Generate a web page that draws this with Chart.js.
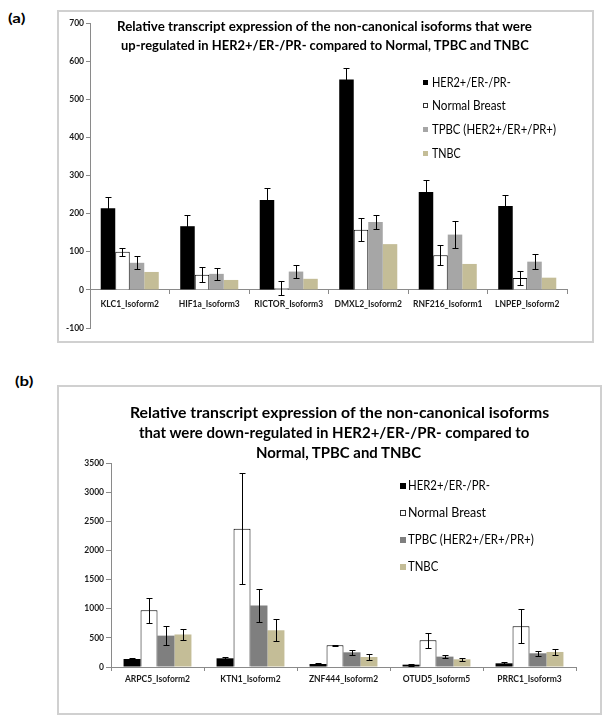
<!DOCTYPE html>
<html><head><meta charset="utf-8">
<script src="https://cdn.jsdelivr.net/npm/chart.js@4.4.1/dist/chart.umd.min.js"></script>
<style>
html,body{margin:0;padding:0;background:#fff;}
body{width:611px;height:724px;position:relative;overflow:hidden;font-family:Lato,"Open Sans",sans-serif;}
.frame{position:absolute;border:2px solid #d0d0d0;box-sizing:border-box;}
.txt{position:absolute;white-space:nowrap;transform-origin:0 50%;color:#000;}
canvas{position:absolute;}
.sq{position:absolute;box-sizing:border-box;}
</style>
</head><body>
<div class="frame" style="left:57px;top:10px;width:537px;height:333px;"></div>
<div class="frame" style="left:57px;top:385px;width:545px;height:330px;"></div>
<canvas id="ca" width="537" height="333" style="left:57px;top:10px;"></canvas>
<canvas id="cb" width="544" height="329" style="left:57px;top:385px;"></canvas>
<script>
// ---------- data (a) ----------
const catsA = ['KLC1_Isoform2','HIF1a_Isoform3','RICTOR_Isoform3','DMXL2_Isoform2','RNF216_Isoform1','LNPEP_Isoform2'];
const herA = [214,167,236,552,257,220];
const herAErr = [30,30,30,30,30,30];
const normA = [100,40,4,158,91,31];
const normAErr = [11,19,18,30,27,19];
const tpbcA = [71,42,48,178,145,74];
const tpbcAErr = [17,16,18,18,36,19];
const tnbcA = [47,26,29,120,68,32];
const yTicksA = [-100,0,100,200,300,400,500,600,700];

// ---------- data (b) ----------
const catsB = ['ARPC5_Isoform2','KTN1_Isoform2','ZNF444_Isoform2','OTUD5_Isoform5','PRRC1_Isoform3'];
const herB = [137,149,52,40,63];
const herBErr = [25,25,20,18,25];
const normB = [974,2371,372,458,699];
const normBErr = [217,950,10,125,295];
const tpbcB = [538,1054,252,178,235];
const tpbcBErr = [160,290,45,30,45];
const tnbcB = [558,630,172,132,258];
const tnbcBErr = [95,190,45,25,50];
const yTicksB = [0,500,1000,1500,2000,2500,3000,3500];

const seriesNames = ['HER2+/ER-/PR-','Normal Breast','TPBC (HER2+/ER+/PR+)','TNBC'];
const titleA = ['Relative transcript  expression  of the  non-canonical  isoforms  that were','up-regulated  in HER2+/ER-/PR-  compared to Normal, TPBC and TNBC'];
const titleB = ['Relative transcript expression of the non-canonical isoforms','that were down-regulated in  HER2+/ER-/PR- compared to','Normal, TPBC and TNBC'];

const BLACK='#000000', WHITE='#ffffff', GRAY_A='#a6a6a6', GRAY_B='#7f7f7f', TAN='#c4bd97';
const AXIS='#8a8a8a';

const errPlugin = {
  id:'errbars',
  afterDatasetsDraw(chart){
    const ctx = chart.ctx, ys = chart.scales.y;
    ctx.save();
    ctx.strokeStyle = '#000'; ctx.lineWidth = 1;
    chart.data.datasets.forEach((ds,i)=>{
      if(!ds.errors) return;
      const meta = chart.getDatasetMeta(i);
      meta.data.forEach((bar,j)=>{
        const v = ds.data[j], e = ds.errors[j];
        const x = Math.round(bar.x)+0.5;
        const y1 = Math.round(ys.getPixelForValue(v+e))+0.5;
        const y2 = Math.round(ys.getPixelForValue(v-e))+0.5;
        const cw = 3;
        ctx.beginPath();
        ctx.moveTo(x,y1); ctx.lineTo(x,y2);
        ctx.moveTo(x-cw,y1); ctx.lineTo(x+cw,y1);
        ctx.moveTo(x-cw,y2); ctx.lineTo(x+cw,y2);
        ctx.stroke();
      });
    });
    ctx.restore();
  }
};

function mkDatasets(vals, errs, grayCol){
  const cols=[BLACK,WHITE,grayCol,TAN];
  return vals.map((v,i)=>({
    label: seriesNames[i], data: v, errors: errs[i] || null,
    backgroundColor: cols[i],
    borderColor: i===1 ? '#000' : cols[i],
    borderWidth: i===1 ? 1 : 0,
    categoryPercentage: 0.73, barPercentage: 1
  }));
}

function mkOptions(yt, pad, yWidth, tickLenX, tickPadX, tickLenY, fontSize){
  const tfont = {family:'Lato', size:fontSize, weight:'bold'};
  return {
    responsive:false, animation:false, devicePixelRatio:1,
    layout:{padding:pad},
    plugins:{legend:{display:false}, title:{display:false}, tooltip:{enabled:false}},
    scales:{
      x:{
        position:{y:0},
        grid:{drawOnChartArea:false, tickLength:tickLenX, color:AXIS, offset:true},
        border:{color:AXIS, width:1},
        ticks:{font:tfont, color:'#1a1a1a', padding:tickPadX, maxRotation:0, autoSkip:false}
      },
      y:{
        min: yt[0], max: yt[yt.length-1],
        afterBuildTicks:(s)=>{ s.ticks = yt.map(v=>({value:v})); },
        afterFit:(s)=>{ s.width = yWidth; },
        grid:{drawOnChartArea:false, tickLength:tickLenY, color:AXIS},
        border:{color:AXIS, width:1},
        ticks:{font:tfont, color:'#1a1a1a', padding:2, callback:(v)=>String(v)}
      }
    }
  };
}

new Chart(document.getElementById('ca'), {
  type:'bar',
  data:{labels:catsA, datasets:mkDatasets([herA,normA,tpbcA,tnbcA],[herAErr,normAErr,tpbcAErr,null],GRAY_A)},
  options: mkOptions(yTicksA, {top:13,right:27,bottom:15,left:0}, 33, 4, 5, 4, 8.5),
  plugins:[errPlugin]
});

new Chart(document.getElementById('cb'), {
  type:'bar',
  data:{labels:catsB, datasets:mkDatasets([herB,normB,tpbcB,tnbcB],[herBErr,normBErr,tpbcBErr,tnbcBErr],GRAY_B)},
  options: mkOptions(yTicksB, {top:78,right:25,bottom:47,left:0}, 54, 3, 4, 5, 8.5),
  plugins:[errPlugin]
});

// ---------- text overlays ----------
function place(text, x, yc, w, size, weight){
  const d = document.createElement('div');
  d.className='txt';
  d.textContent = text;
  d.style.font = weight+' '+size+'px Lato, sans-serif';
  d.style.lineHeight = size+'px';
  d.style.left = x+'px';
  d.style.top = (yc - size/2)+'px';
  document.body.appendChild(d);
  if(w){ const s = w / d.offsetWidth; d.style.transform = 'scaleX('+s+')'; }
  return d;
}
function square(x, yc, s, col){
  const q = document.createElement('div');
  q.className='sq';
  q.style.left=x+'px'; q.style.top=(yc - s/2)+'px';
  q.style.width=s+'px'; q.style.height=s+'px';
  q.style.background=col;
  if(col===WHITE) q.style.border='1px solid #333';
  document.body.appendChild(q);
}

place('(a)', 8, 18, 17, 14, 'bold');
place('(b)', 15, 381, 18, 14, 'bold');

place(titleA[0], 117, 26, 415, 14, 'bold');
place(titleA[1], 121, 44.5, 408, 14, 'bold');

place(titleB[0], 130, 412, 419, 16, 'bold');
place(titleB[1], 139, 432, 390, 16, 'bold');
place(titleB[2], 256, 452, 165, 16, 'bold');

const legColsA = [BLACK,WHITE,GRAY_A,TAN];
const legColsB = [BLACK,WHITE,GRAY_B,TAN];
const rowsA = [82,105,129,153], wA=[79,74,124,29];
const rowsB = [485,512,539,566], wB=[82,78,126,30];
seriesNames.forEach((n,i)=>{
  square(423, rowsA[i]+0.5, 5, legColsA[i]);
  place(n, 432, rowsA[i], wA[i], 13, 'normal');
  square(400, rowsB[i]+0.5, 6, legColsB[i]);
  place(n, 408, rowsB[i], wB[i], 14, 'normal');
});
</script>
</body></html>
